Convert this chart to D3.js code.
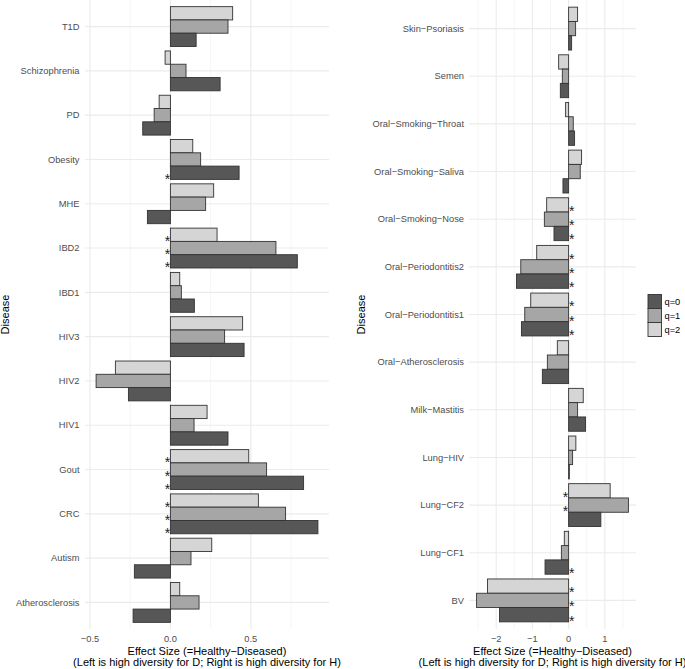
<!DOCTYPE html>
<html><head><meta charset="utf-8">
<script src="https://cdn.jsdelivr.net/npm/d3@7"></script>
<style>body{margin:0;background:#fff}svg{display:block}text{font-family:"Liberation Sans",Arial,sans-serif}</style>
</head><body><svg id="c" width="685" height="669"></svg>
<script>
// ---- Data ----
const seriesNames = ["q=0", "q=1", "q=2"];
const seriesColors = ["#575757", "#a6a6a6", "#d5d5d5"];

// Left panel (top to bottom)
const leftCategories = ["T1D","Schizophrenia","PD","Obesity","MHE","IBD2","IBD1","HIV3","HIV2","HIV1","Gout","CRC","Autism","Atherosclerosis"];
const leftQ0 = [0.160, 0.309, -0.172, 0.427, -0.143, 0.789, 0.149, 0.458, -0.261, 0.358, 0.828, 0.917, -0.224, -0.232];
const leftQ1 = [0.358, 0.097, -0.101, 0.188, 0.219, 0.656, 0.068, 0.337, -0.462, 0.147, 0.598, 0.716, 0.128, 0.178];
const leftQ2 = [0.387, -0.033, -0.070, 0.139, 0.269, 0.290, 0.058, 0.449, -0.342, 0.228, 0.487, 0.547, 0.257, 0.058];
const leftSigQ0 = [0,0,0,1,0,1,0,0,0,0,1,1,0,0];
const leftSigQ1 = [0,0,0,0,0,1,0,0,0,0,1,1,0,0];
const leftSigQ2 = [0,0,0,0,0,1,0,0,0,0,1,1,0,0];
const leftTicks = [-0.5, 0, 0.5];
const leftTickLabels = ["\u22120.5", "0.0", "0.5"];

// Right panel (top to bottom)
const rightCategories = ["Skin\u2212Psoriasis","Semen","Oral\u2212Smoking\u2212Throat","Oral\u2212Smoking\u2212Saliva","Oral\u2212Smoking\u2212Nose","Oral\u2212Periodontitis2","Oral\u2212Periodontitis1","Oral\u2212Atherosclerosis","Milk\u2212Mastitis","Lung\u2212HIV","Lung\u2212CF2","Lung\u2212CF1","BV"];
const rightQ0 = [0.083, -0.229, 0.165, -0.156, -0.404, -1.440, -1.303, -0.725, 0.468, 0.020, 0.890, -0.651, -1.908];
const rightQ1 = [0.193, -0.174, 0.128, 0.321, -0.670, -1.321, -1.211, -0.587, 0.248, 0.110, 1.651, -0.200, -2.541];
const rightQ2 = [0.248, -0.275, -0.083, 0.358, -0.606, -0.881, -1.046, -0.312, 0.404, 0.200, 1.147, -0.119, -2.239];
const rightSigQ0 = [0,0,0,0,1,1,1,0,0,0,0,1,1];
const rightSigQ1 = [0,0,0,0,1,1,1,0,0,0,1,0,1];
const rightSigQ2 = [0,0,0,0,1,1,1,0,0,0,1,0,1];
const rightTicks = [-2, -1, 0, 1];
const rightTickLabels = ["\u22122", "\u22121", "0", "1"];

const xTitle1 = "Effect Size (=Healthy\u2212Diseased)";
const xTitle2 = "(Left is high diversity for D; Right is high diversity for H)";
const yTitle = "Disease";

// ---- Drawing ----
const svg = d3.select("#c");
const panelTop = 0, panelBottom = 629;

function drawPanel(opt) {
  const {cats, q0, q1, q2, s0, s1, s2, ticks, tickLabels, x0, x1, labelRight, titleX} = opt;
  const all = q0.concat(q1, q2, [0]);
  const mn = d3.min(all), mx = d3.max(all), ex = (mx - mn) * 0.05;
  const x = d3.scaleLinear().domain([mn - ex, mx + ex]).range([x0, x1]);
  const y = d3.scalePoint().domain(cats).range([panelTop, panelBottom]).padding(0.6);
  const step = y.step();
  const sub = d3.scaleBand().domain(["q=2", "q=1", "q=0"]).range([-0.45 * step, 0.45 * step]);
  const g = svg.append("g");

  // minor vertical grid
  const [d0, d1] = x.domain();
  const tstep = ticks[1] - ticks[0];
  const minor = d3.range(Math.ceil(d0 / (tstep / 2)), Math.floor(d1 / (tstep / 2)) + 1).map(k => k * tstep / 2)
    .filter(v => !ticks.some(t => Math.abs(t - v) < 1e-9));
  g.selectAll(".mn").data(minor).join("line")
    .attr("x1", d => x(d)).attr("x2", d => x(d)).attr("y1", panelTop).attr("y2", panelBottom)
    .attr("stroke", "#f0f0f0").attr("stroke-width", 0.6);
  g.selectAll(".mj").data(ticks).join("line")
    .attr("x1", d => x(d)).attr("x2", d => x(d)).attr("y1", panelTop).attr("y2", panelBottom)
    .attr("stroke", "#ebebeb").attr("stroke-width", 1.1);
  g.selectAll(".hg").data(cats).join("line")
    .attr("x1", x0).attr("x2", x1).attr("y1", d => y(d)).attr("y2", d => y(d))
    .attr("stroke", "#ebebeb").attr("stroke-width", 1.1);

  // bars
  const rows = [];
  cats.forEach((c, i) => {
    rows.push({c, s: "q=2", v: q2[i], sig: s2[i], col: seriesColors[2]});
    rows.push({c, s: "q=1", v: q1[i], sig: s1[i], col: seriesColors[1]});
    rows.push({c, s: "q=0", v: q0[i], sig: s0[i], col: seriesColors[0]});
  });
  g.selectAll(".bar").data(rows).join("rect")
    .attr("x", d => Math.min(x(0), x(d.v)))
    .attr("width", d => Math.abs(x(d.v) - x(0)))
    .attr("y", d => y(d.c) + sub(d.s))
    .attr("height", sub.bandwidth())
    .attr("fill", d => d.col).attr("stroke", "#333").attr("stroke-width", 0.9);

  // significance stars
  g.selectAll(".star").data(rows.filter(d => d.sig)).join("text")
    .attr("x", d => d.v >= 0 ? x(0) - 0.3 : x(0) + 0.3)
    .attr("y", d => y(d.c) + sub(d.s) + sub.bandwidth() / 2 + 11)
    .attr("text-anchor", d => d.v >= 0 ? "end" : "start")
    .attr("font-size", 14).attr("fill", "#222").text("*");

  // category labels
  g.selectAll(".cl").data(cats).join("text")
    .attr("x", labelRight).attr("y", d => y(d)).attr("dy", "0.35em")
    .attr("text-anchor", "end").attr("font-size", 9.3).attr("fill", "#4d4d4d").text(d => d);

  // tick labels
  g.selectAll(".tl").data(ticks).join("text")
    .attr("x", d => x(d)).attr("y", 641.5).attr("text-anchor", "middle")
    .attr("font-size", 9.3).attr("fill", "#4d4d4d").text((d, i) => tickLabels[i]);

  // axis titles
  const cx = (x0 + x1) / 2;
  g.append("text").attr("x", cx).attr("y", 655).attr("text-anchor", "middle").attr("font-size", 11).attr("fill", "#000").text(xTitle1);
  g.append("text").attr("x", cx).attr("y", 666).attr("text-anchor", "middle").attr("font-size", 11).attr("fill", "#000").text(xTitle2);
  g.append("text").attr("transform", `translate(${titleX},${(panelTop + panelBottom) / 2}) rotate(-90)`)
    .attr("text-anchor", "middle").attr("font-size", 11).attr("fill", "#000").text(yTitle);
}

drawPanel({cats: leftCategories, q0: leftQ0, q1: leftQ1, q2: leftQ2, s0: leftSigQ0, s1: leftSigQ1, s2: leftSigQ2,
  ticks: leftTicks, tickLabels: leftTickLabels, x0: 85, x1: 329, labelRight: 79.5, titleX: 9});
drawPanel({cats: rightCategories, q0: rightQ0, q1: rightQ1, q2: rightQ2, s0: rightSigQ0, s1: rightSigQ1, s2: rightSigQ2,
  ticks: rightTicks, tickLabels: rightTickLabels, x0: 469, x1: 636, labelRight: 464, titleX: 364.5});

// legend
const lg = svg.append("g");
const keyH = 14, keyW = 13.5, lx = 648, ly = 294.5;
seriesNames.forEach((n, i) => {
  lg.append("rect").attr("x", lx).attr("y", ly + i * keyH).attr("width", keyW).attr("height", keyH)
    .attr("fill", seriesColors[i]).attr("stroke", "#333").attr("stroke-width", 0.9);
  lg.append("text").attr("x", lx + keyW + 3).attr("y", ly + i * keyH + keyH / 2).attr("dy", "0.35em")
    .attr("font-size", 9.3).attr("fill", "#000").text(n);
});
</script></body></html>
